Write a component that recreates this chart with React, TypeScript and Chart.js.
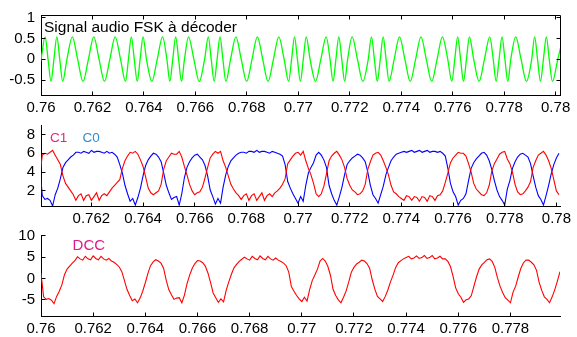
import React, { useEffect, useRef } from 'react';
import { Chart, registerables } from 'chart.js';

Chart.register(...registerables);

// ---------- data ----------
const T0 = 0.76; // seconds, start of the record
const SAMPLE_MS = 0.1; // sampling step of the detector outputs (ms)

// FSK audio signal: times (ms after T0) of its peaks, troughs and zero crossings
const FSK_MS = [
  -0.208, 0, 0.161, 0.275, 0.389, 0.502, 0.616, 0.73, 0.843, 1.008,
  1.217, 1.425, 1.633, 1.842, 2.05, 2.258, 2.467, 2.675, 2.883, 3.092,
  3.284, 3.398, 3.511, 3.625, 3.739, 3.852, 3.966, 4.1, 4.308, 4.517,
  4.725, 4.893, 5.007, 5.12, 5.234, 5.348, 5.461, 5.575, 5.733, 5.942,
  6.15, 6.358, 6.502, 6.616, 6.73, 6.843, 6.957, 7.07, 7.184, 7.367,
  7.575, 7.783, 7.992, 8.2, 8.408, 8.617, 8.825, 9.033, 9.242, 9.45,
  9.625, 9.739, 9.852, 9.966, 10.08, 10.193, 10.307, 10.458, 10.667, 10.875,
  11.083, 11.234, 11.348, 11.461, 11.575, 11.689, 11.802, 11.916, 12.092, 12.3,
  12.508, 12.717, 12.843, 12.957, 13.07, 13.184, 13.298, 13.411, 13.525, 13.725,
  13.933, 14.142, 14.35, 14.558, 14.767, 14.975, 15.183, 15.392, 15.6, 15.808,
  15.966, 16.08, 16.193, 16.307, 16.42, 16.534, 16.648, 16.817, 17.025, 17.233,
  17.442, 17.575, 17.689, 17.802, 17.916, 18.03, 18.143, 18.257, 18.45, 18.658,
  18.867, 19.07, 19.184, 19.298, 19.411, 19.525, 19.639, 19.752, 19.875, 20.083,
  20.292,
];
const FSK_V = [
  -0.53, 0, 0.54, 0, -0.53, 0, 0.54, 0, -0.53, 0,
  0.54, 0, -0.53, 0, 0.54, 0, -0.53, 0, 0.54, 0,
  -0.53, 0, 0.54, 0, -0.53, 0, 0.54, 0, -0.53, 0,
  0.54, 0, -0.53, 0, 0.54, 0, -0.53, 0, 0.54, 0,
  -0.53, 0, 0.54, 0, -0.53, 0, 0.54, 0, -0.53, 0,
  0.54, 0, -0.53, 0, 0.54, 0, -0.53, 0, 0.54, 0,
  -0.53, 0, 0.54, 0, -0.53, 0, 0.54, 0, -0.53, 0,
  0.54, 0, -0.53, 0, 0.54, 0, -0.53, 0, 0.54, 0,
  -0.53, 0, 0.54, 0, -0.53, 0, 0.54, 0, -0.53, 0,
  0.54, 0, -0.53, 0, 0.54, 0, -0.53, 0, 0.54, 0,
  -0.53, 0, 0.54, 0, -0.53, 0, 0.54, 0, -0.53, 0,
  0.54, 0, -0.53, 0, 0.54, 0, -0.53, 0, 0.54, 0,
  -0.53, 0, 0.54, 0, -0.53, 0, 0.54, 0, -0.53, 0,
  0.54,
];

// detector outputs, one value every SAMPLE_MS from T0
const C1_V = [
  3.5, 5.8, 6.0, 5.9, 6.1, 6.3, 5.8, 5.3, 4.8, 3.6,
  2.8, 2.4, 2.0, 1.6, 1.0, 1.5, 1.7, 1.0, 1.5, 1.6,
  1.0, 1.4, 1.8, 1.0, 1.5, 1.7, 1.5, 1.9, 2.3, 2.6,
  2.9, 3.2, 4.4, 5.2, 5.7, 6.1, 6.0, 6.2, 5.9, 5.3,
  4.6, 3.5, 2.3, 1.8, 1.6, 1.8, 2.0, 2.7, 4.3, 5.2,
  5.6, 6.0, 5.9, 5.9, 6.2, 5.6, 4.6, 3.7, 2.7, 2.0,
  1.6, 1.8, 1.9, 2.4, 3.4, 4.5, 5.5, 5.9, 6.2, 6.0,
  6.2, 5.2, 4.5, 3.6, 2.7, 2.2, 1.8, 1.5, 1.1, 1.5,
  1.7, 1.0, 1.5, 1.7, 1.0, 1.4, 1.8, 1.0, 1.5, 1.7,
  1.4, 1.8, 2.0, 2.3, 2.7, 3.3, 4.9, 5.3, 5.7, 6.0,
  6.1, 5.8, 6.2, 5.2, 4.4, 3.7, 2.8, 1.7, 1.4, 1.7,
  2.5, 3.8, 5.2, 5.7, 6.0, 6.2, 5.8, 5.3, 4.5, 3.3,
  2.6, 2.1, 1.9, 1.6, 1.7, 2.0, 2.7, 4.3, 5.1, 5.8,
  6.0, 6.1, 5.8, 5.2, 4.5, 3.7, 2.6, 1.9, 1.7, 1.4,
  1.2, 1.0, 1.5, 1.4, 1.0, 1.4, 1.3, 0.9, 1.4, 1.3,
  0.9, 1.5, 1.4, 1.0, 1.5, 1.6, 2.0, 2.9, 3.9, 5.0,
  5.5, 5.8, 6.1, 6.0, 6.0, 5.7, 4.9, 4.0, 2.8, 2.2,
  1.9, 1.6, 1.5, 1.8, 2.6, 4.1, 4.9, 5.4, 5.9, 6.1,
  6.2, 5.4, 4.9, 4.0, 2.7, 1.9, 1.6, 1.7, 2.0, 2.4,
  3.0, 4.5, 5.2, 5.8, 6.0, 6.2, 5.8, 5.2, 4.4, 3.2,
  2.0, 1.6,
];
const C0_V = [
  4.7, 1.5, 1.1, 1.2, 1.0, 0.4, 1.6, 2.3, 3.3, 4.5,
  5.0, 5.3, 5.6, 5.8, 6.1, 6.1, 6.0, 6.2, 6.1, 6.0,
  6.3, 6.1, 6.2, 6.2, 6.1, 6.0, 6.2, 6.0, 6.1, 5.9,
  5.6, 4.8, 3.9, 2.6, 1.7, 0.9, 1.2, 0.5, 1.3, 2.3,
  3.6, 4.7, 5.3, 5.7, 6.0, 5.9, 5.6, 5.1, 3.9, 2.6,
  1.8, 1.1, 1.3, 1.4, 0.5, 1.7, 3.4, 4.5, 5.1, 5.5,
  5.8, 5.9, 5.6, 5.3, 4.7, 3.6, 2.1, 1.4, 0.6, 1.2,
  0.7, 2.4, 3.7, 4.6, 5.2, 5.5, 5.8, 6.0, 6.1, 6.1,
  6.0, 6.2, 6.2, 6.1, 6.3, 6.1, 6.2, 6.2, 6.1, 6.0,
  6.2, 6.1, 6.0, 5.9, 5.7, 4.8, 3.0, 2.3, 1.7, 1.2,
  0.7, 1.4, 0.9, 2.6, 3.9, 4.5, 5.0, 5.8, 6.1, 5.8,
  5.3, 4.5, 2.6, 1.7, 1.0, 0.5, 1.4, 2.4, 3.7, 4.8,
  5.2, 5.5, 5.7, 5.9, 5.8, 5.5, 5.1, 4.0, 2.6, 1.6,
  1.2, 0.7, 1.6, 2.5, 3.7, 4.5, 5.2, 5.6, 5.9, 6.0,
  6.1, 6.2, 6.1, 6.2, 6.3, 6.1, 6.2, 6.3, 6.1, 6.2,
  6.3, 6.1, 6.2, 6.2, 6.1, 6.2, 6.0, 5.7, 4.4, 2.8,
  1.9, 1.4, 0.5, 1.0, 1.2, 1.7, 3.1, 4.4, 5.0, 5.4,
  5.7, 6.0, 6.1, 5.8, 5.2, 4.3, 3.1, 2.1, 1.4, 1.0,
  0.5, 2.2, 3.1, 4.4, 5.1, 5.6, 5.9, 6.0, 5.8, 5.6,
  4.9, 3.6, 2.4, 1.5, 1.1, 0.5, 1.5, 2.6, 3.8, 4.8,
  5.5, 6.0,
];
const DCC_V = [
  1.2, -4.3, -4.9, -4.7, -5.1, -5.9, -4.2, -3.0, -1.5, 0.9,
  2.2, 2.9, 3.6, 4.2, 5.1, 4.6, 4.3, 5.2, 4.6, 4.4,
  5.3, 4.7, 4.4, 5.2, 4.6, 4.3, 4.7, 4.1, 3.8, 3.3,
  2.7, 1.6, -0.5, -2.6, -4.0, -5.2, -4.8, -5.7, -4.6, -3.0,
  -1.0, 1.2, 3.0, 3.9, 4.4, 4.1, 3.6, 2.4, -0.4, -2.6,
  -3.8, -4.9, -4.6, -4.5, -5.7, -3.9, -1.2, 0.8, 2.4, 3.5,
  4.2, 4.1, 3.7, 2.9, 1.3, -0.9, -3.4, -4.5, -5.6, -4.8,
  -5.5, -2.8, -0.8, 1.0, 2.5, 3.3, 4.0, 4.5, 5.0, 4.6,
  4.3, 5.2, 4.7, 4.4, 5.3, 4.7, 4.4, 5.2, 4.6, 4.3,
  4.8, 4.3, 4.0, 3.6, 3.0, 1.5, -1.9, -3.0, -4.0, -4.8,
  -5.4, -4.4, -5.3, -2.6, -0.5, 0.8, 2.2, 4.1, 4.7, 4.1,
  2.8, 0.7, -2.6, -4.0, -5.0, -5.7, -4.4, -2.9, -0.8, 1.5,
  2.6, 3.4, 3.8, 4.3, 4.1, 3.5, 2.4, -0.3, -2.5, -4.2,
  -4.8, -5.4, -4.2, -2.7, -0.8, 0.8, 2.6, 3.7, 4.2, 4.6,
  4.9, 5.2, 4.6, 4.8, 5.3, 4.7, 4.9, 5.4, 4.7, 4.9,
  5.4, 4.6, 4.8, 5.2, 4.6, 4.6, 4.0, 2.8, 0.5, -2.2,
  -3.6, -4.4, -5.6, -5.0, -4.8, -4.0, -1.8, 0.4, 2.2, 3.2,
  3.8, 4.4, 4.6, 4.0, 2.6, 0.2, -1.8, -3.3, -4.5, -5.1,
  -5.7, -3.2, -1.8, 0.4, 2.4, 3.7, 4.3, 4.3, 3.8, 3.2,
  1.9, -0.9, -2.8, -4.3, -4.9, -5.7, -4.3, -2.6, -0.6, 1.6,
  3.5,
];

// tick values
const X1_TICKS = [0.76, 0.762, 0.764, 0.766, 0.768, 0.77, 0.772, 0.774, 0.776, 0.778, 0.78];
const X2_TICKS = [0.762, 0.764, 0.766, 0.768, 0.77, 0.772, 0.774, 0.776, 0.778, 0.78];
const X3_TICKS = [0.76, 0.762, 0.764, 0.766, 0.768, 0.77, 0.772, 0.774, 0.776, 0.778];
const Y1_TICKS = [-0.5, 0, 0.5, 1];
const Y2_TICKS = [2, 4, 6, 8];
const Y3_TICKS = [-5, 0, 5, 10];

const TITLE_1 = 'Signal audio FSK à décoder';
const LABEL_C1 = 'C1';
const LABEL_C0 = 'C0';
const LABEL_DCC = 'DCC';

// ---------- helpers ----------
const FONT = '"Liberation Sans", Arial, Helvetica, sans-serif';
const W = 577;
const AXIS_LEFT = 41;
const PAD_RIGHT = 17;
const TICK_LEN = 4;

const fmt = (v: number) => String(Number(Number(v).toFixed(4)));

const sampled = (vals: number[]) =>
  vals.map((v, i) => ({ x: T0 + (i * SAMPLE_MS) / 1000, y: v }));

type TextSpec = { text: string; x: number; y: number; color: string; size: number };
type PanelSpec = {
  top: number;
  height: number;
  padTop: number;
  xAxisH: number;
  xMin: number;
  xMax: number;
  xTicks: number[];
  yMin: number;
  yMax: number;
  yTicks: number[];
  box: boolean;
  texts: TextSpec[];
  datasets: any[];
};

const al = (p: number) => Math.round(p - 0.5) + 0.5;

function chromePlugin(spec: PanelSpec) {
  return {
    id: 'matlabChrome',
    afterDatasetsDraw(chart: any) {
      const { ctx, chartArea: a, scales } = chart;
      const xs = scales.x;
      const ys = scales.y;
      ctx.save();
      ctx.strokeStyle = '#000';
      ctx.lineWidth = 1;
      ctx.beginPath();
      const L = al(a.left);
      const R = al(a.right);
      const T = al(a.top);
      const B = al(a.bottom);
      for (const t of spec.xTicks) {
        const px = al(xs.getPixelForValue(t));
        ctx.moveTo(px, B);
        ctx.lineTo(px, B - TICK_LEN);
        if (spec.box) {
          ctx.moveTo(px, T);
          ctx.lineTo(px, T + TICK_LEN);
        }
      }
      for (const t of spec.yTicks) {
        const py = al(ys.getPixelForValue(t));
        ctx.moveTo(L, py);
        ctx.lineTo(L + TICK_LEN, py);
        if (spec.box) {
          ctx.moveTo(R, py);
          ctx.lineTo(R - TICK_LEN, py);
        }
      }
      if (spec.box) {
        ctx.moveTo(L, T);
        ctx.lineTo(R, T);
        ctx.lineTo(R, B);
      }
      ctx.stroke();
      for (const t of spec.texts) {
        ctx.font = `${t.size}px ${FONT}`;
        ctx.fillStyle = t.color;
        ctx.textBaseline = 'alphabetic';
        ctx.textAlign = 'left';
        ctx.fillText(t.text, xs.getPixelForValue(t.x), ys.getPixelForValue(t.y));
      }
      ctx.restore();
    },
  };
}

function makeConfig(spec: PanelSpec): any {
  const tickFont = { family: FONT, size: 15 };
  return {
    type: 'line',
    data: { datasets: spec.datasets },
    plugins: [chromePlugin(spec)],
    options: {
      animation: false,
      responsive: false,
      maintainAspectRatio: false,
      devicePixelRatio: 1,
      events: [],
      layout: { padding: { left: 0, right: PAD_RIGHT, top: spec.padTop, bottom: 0 } },
      plugins: { legend: { display: false }, tooltip: { enabled: false }, title: { display: false } },
      elements: { point: { radius: 0 } },
      scales: {
        x: {
          type: 'linear',
          min: spec.xMin,
          max: spec.xMax,
          grid: { display: false, drawTicks: false },
          border: { display: true, color: '#000', width: 1 },
          ticks: {
            color: '#000',
            font: tickFont,
            padding: 4,
            maxRotation: 0,
            minRotation: 0,
            autoSkip: false,
            callback: (v: number) => fmt(v),
          },
          afterBuildTicks: (s: any) => {
            s.ticks = spec.xTicks.map((v) => ({ value: v }));
          },
          afterFit: (s: any) => {
            s.height = spec.xAxisH;
          },
        },
        y: {
          type: 'linear',
          min: spec.yMin,
          max: spec.yMax,
          grid: { display: false, drawTicks: false },
          border: { display: true, color: '#000', width: 1 },
          ticks: {
            color: '#000',
            font: tickFont,
            padding: 6,
            autoSkip: false,
            callback: (v: number) => fmt(v),
          },
          afterBuildTicks: (s: any) => {
            s.ticks = spec.yTicks.map((v) => ({ value: v }));
          },
          afterFit: (s: any) => {
            s.width = AXIS_LEFT;
          },
        },
      },
    },
  };
}

const PANELS: PanelSpec[] = [
  {
    top: 0,
    height: 122,
    padTop: 14,
    xAxisH: 27,
    xMin: 0.76,
    xMax: 0.78017,
    xTicks: X1_TICKS,
    yMin: -0.855,
    yMax: 1.064,
    yTicks: Y1_TICKS,
    box: true,
    texts: [{ text: TITLE_1, x: 0.760117, y: 0.66, color: '#000', size: 15.5 }],
    datasets: [
      {
        data: FSK_MS.map((ms, i) => ({ x: T0 + ms / 1000, y: FSK_V[i] })),
        borderColor: '#00ff00',
        borderWidth: 1.3,
        cubicInterpolationMode: 'monotone',
        fill: false,
      },
    ],
  },
  {
    top: 110,
    height: 122,
    padTop: 13,
    xAxisH: 26,
    xMin: 0.76005,
    xMax: 0.78014,
    xTicks: X2_TICKS,
    yMin: 0.4,
    yMax: 9.0,
    yTicks: Y2_TICKS,
    box: false,
    texts: [
      { text: LABEL_C1, x: 0.7604, y: 7.19, color: 'rgb(232,36,125)', size: 13.5 },
      { text: LABEL_C0, x: 0.76166, y: 7.19, color: 'rgb(50,140,210)', size: 13.5 },
    ],
    datasets: [
      { data: sampled(C1_V), borderColor: '#ff0000', borderWidth: 1.1, tension: 0, fill: false },
      { data: sampled(C0_V), borderColor: '#0000ff', borderWidth: 1.1, tension: 0, fill: false },
    ],
  },
  {
    top: 220,
    height: 117,
    padTop: 14,
    xAxisH: 21,
    xMin: 0.76,
    xMax: 0.7799,
    xTicks: X3_TICKS,
    yMin: -8.8,
    yMax: 10.2,
    yTicks: Y3_TICKS,
    box: false,
    texts: [{ text: LABEL_DCC, x: 0.76121, y: 6.61, color: 'rgb(225,25,140)', size: 15 }],
    datasets: [
      { data: sampled(DCC_V), borderColor: '#ff0000', borderWidth: 1.1, tension: 0, fill: false },
    ],
  },
];

function Panel({ spec }: { spec: PanelSpec }) {
  const ref = useRef<HTMLCanvasElement | null>(null);
  useEffect(() => {
    if (!ref.current) return;
    const chart = new Chart(ref.current, makeConfig(spec));
    return () => chart.destroy();
  }, [spec]);
  return (
    <canvas
      ref={ref}
      width={W}
      height={spec.height}
      style={{ position: 'absolute', left: 0, top: spec.top, width: W, height: spec.height }}
    />
  );
}

export default function App() {
  return (
    <div
      style={{
        position: 'absolute',
        left: 0,
        top: 0,
        width: W,
        height: 337,
        background: '#fff',
        overflow: 'hidden',
      }}
    >
      {PANELS.map((p, i) => (
        <Panel key={i} spec={p} />
      ))}
    </div>
  );
}
